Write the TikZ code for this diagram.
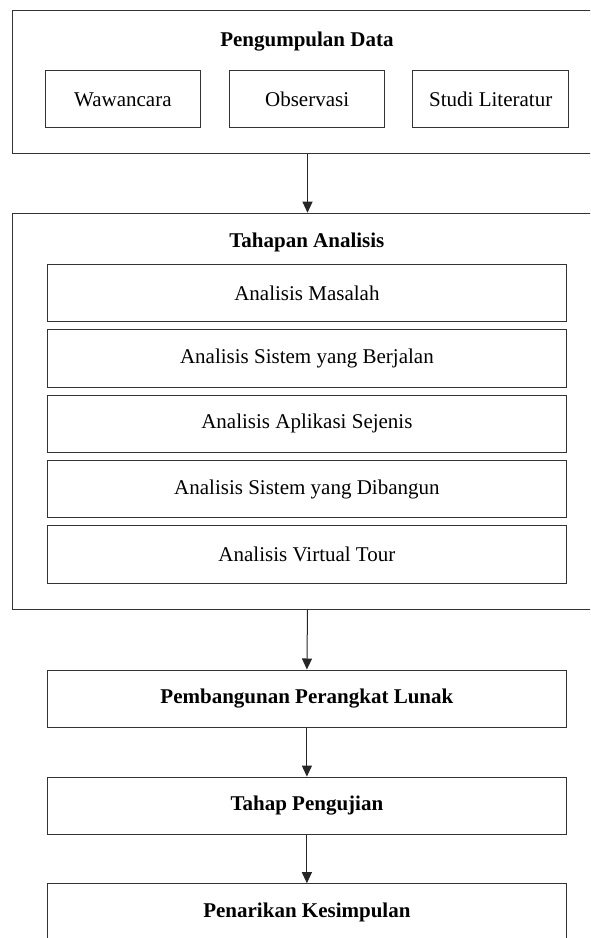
\documentclass[tikz,border=0pt]{standalone}
\usepackage{fontspec}
\setmainfont{Liberation Serif}
\usetikzlibrary{arrows.meta}
\usetikzlibrary{positioning}
\tikzset{
  frame/.style = {draw=black!80, line width=1pt, inner sep=0pt, anchor=north west},
  item/.style = {draw=black!80, line width=1pt, inner sep=0pt, font=\fontsize{21}{25}\selectfont},
  stage/.style = {item, minimum width=519.7pt, minimum height=57.4pt, font=\fontsize{21}{25}\selectfont\bfseries},
  title/.style = {inner sep=0pt, font=\fontsize{21}{25}\selectfont\bfseries},
  flow/.style = {draw=black!85, line width=1pt, -{Triangle[width=10pt,length=11pt]}}
}

\begin{document}
\begin{tikzpicture}[x=1pt, y=-1pt]

    \def\mid{306.9}
    \def\wide{519.7}

    % Canvas
    \useasboundingbox (0,0) rectangle (590,938);
    \clip (0,0) rectangle (590,938);

    % Groups
    \node[frame, minimum width=590pt, minimum height=143pt] (collect) at (12,10) {};
    \node[frame, minimum width=590pt, minimum height=395.8pt] (analysis) at (12,212.7) {};
    \node[title] (collecttitle) at (\mid,41.5) {Pengumpulan Data};
    \node[title] (analysistitle) at (\mid,242) {Tahapan Analisis};

    % Data collection
    \node[item, minimum width=155.7pt, minimum height=57.3pt] (interview) at (122.9,99.3) {Wawancara};
    \node[item, minimum width=155.7pt, minimum height=57.3pt] (observe) at (307.1,99.3) {Observasi};
    \node[item, minimum width=155.7pt, minimum height=57.3pt] (study) at (490.7,99.3) {Studi Literatur};

    % Analysis steps
    \foreach \txt [count=\i] in {Analisis Masalah, Analisis Sistem yang Berjalan, Analisis Aplikasi Sejenis, Analisis Sistem yang Dibangun, Analisis Virtual Tour} {
      \node[item, minimum width=\wide pt, minimum height=57.4pt] (step\i) at (\mid,{293.1+65.3*(\i-1)}) {\txt};
    }

    % Stages
    \node[stage] (build) at (\mid,698.7) {Pembangunan Perangkat Lunak};
    \node[stage] (test) at (\mid,805.8) {Tahap Pengujian};
    \node[stage] (conclude) at (\mid,912.4) {Penarikan Kesimpulan};

    % Flow
    \draw[flow] (collect.south) -- (analysis.north);
    \draw[flow] (analysis.south) -- (build.north);
    \draw[flow] (build.south) -- (test.north);
    \draw[flow] (test.south) -- (conclude.north);

\end{tikzpicture}
\end{document}
